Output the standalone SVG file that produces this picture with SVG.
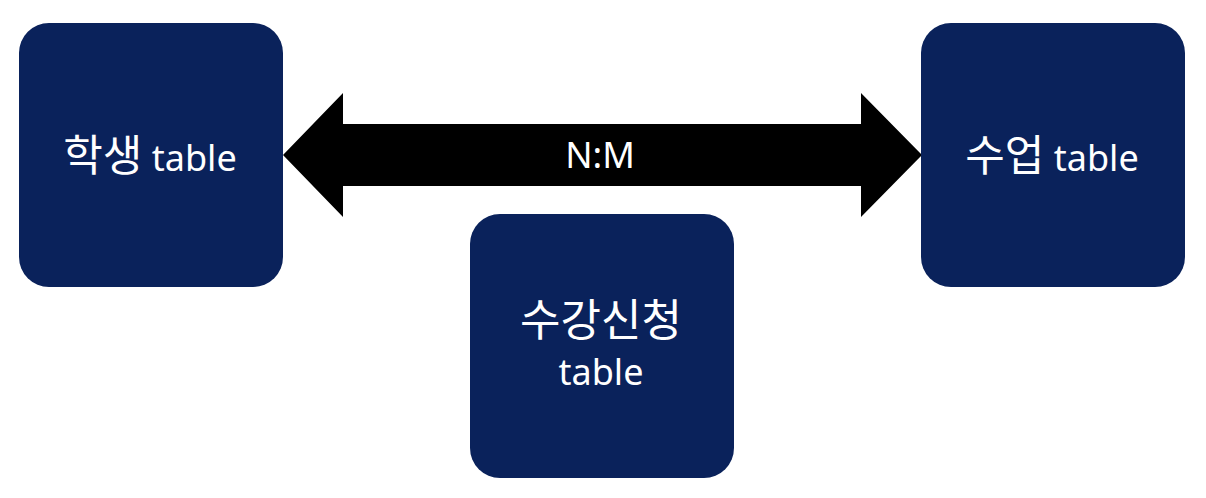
<svg xmlns="http://www.w3.org/2000/svg" width="1206" height="498" viewBox="0 0 1206 498">
<style>
.node{fill:#0a225b;}
.lbl{fill:#ffffff;font-family:"Noto Sans","Noto Sans CJK KR",sans-serif;font-size:36px;text-anchor:middle;}
.ko{font-family:"Noto Sans CJK KR",sans-serif;font-size:43px;}
.conn{fill:#000000;}
.clbl{fill:#ffffff;font-family:"Noto Sans","Liberation Sans",sans-serif;font-size:36px;text-anchor:middle;}
</style>
<rect width="1206" height="498" fill="#ffffff"/>
<g id="connectors">
<polygon class="conn" points="283,155 343,93 343,124 861,124 861,93 922,155 861,217 861,186 343,186 343,217"/>
<text class="clbl" x="600" y="168">N:M</text>
</g>
<g id="student">
<rect class="node" x="19" y="23" width="264" height="264" rx="30" ry="30"/>
<text class="lbl" x="150" y="171"><tspan class="ko">학생</tspan> table</text>
</g>
<g id="course">
<rect class="node" x="921" y="23" width="264" height="264" rx="30" ry="30"/>
<text class="lbl" x="1052" y="171"><tspan class="ko">수업</tspan> table</text>
</g>
<g id="enrollment">
<rect class="node" x="470" y="214" width="264" height="264" rx="30" ry="30"/>
<text class="lbl ko" x="601" y="336" style="font-size:44px">수강신청</text>
<text class="lbl" x="601" y="385">table</text>
</g>
</svg>
